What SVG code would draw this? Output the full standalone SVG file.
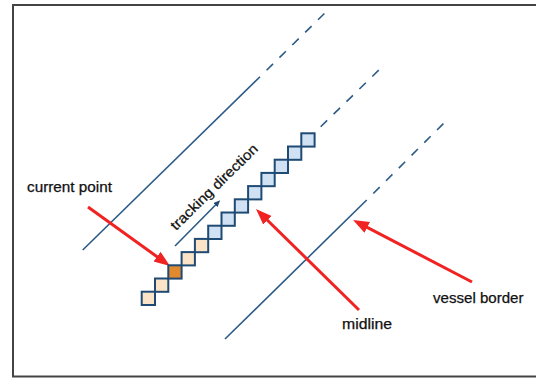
<svg xmlns="http://www.w3.org/2000/svg" width="536" height="378" viewBox="0 0 536 378">
<style>
.frame{fill:#ffffff;stroke:#444444;stroke-width:2}
.vline{stroke:#2b5a86;stroke-width:1.6;fill:none}
.dash{stroke-dasharray:9 9}
.sq{stroke:#1f4a73;stroke-width:2}
.beige{fill:#fbe3c8}
.orange{fill:#e0892f}
.blue{fill:#cfe1f3}
.red{stroke:#f02222;stroke-width:3;fill:none;marker-end:url(#redhead)}
.lbl{font-family:"Liberation Sans",Arial,sans-serif;font-size:14px;fill:#111111;stroke:#111111;stroke-width:0.25}
</style>
<defs>
<marker id="redhead" markerUnits="userSpaceOnUse" markerWidth="17" markerHeight="13" refX="6" refY="6" orient="auto">
<path d="M0,0 L16,6 L0,12 z" fill="#f02222"/>
</marker>
<marker id="navyhead" markerUnits="userSpaceOnUse" markerWidth="8" markerHeight="7" refX="1" refY="3" orient="auto">
<path d="M0,0 L7,3 L0,6 z" fill="#1f4a73"/>
</marker>
</defs>
<rect class="frame" x="13" y="5" width="540" height="371.5"/>
<g id="connectors">
<line class="vline" x1="82.7" y1="250" x2="260" y2="76.7"/>
<line class="vline dash" x1="266.6" y1="70.2" x2="328" y2="10"/>
<line class="vline dash" x1="320.7" y1="126.7" x2="382" y2="67"/>
<line class="vline" x1="225" y1="339" x2="366.7" y2="200"/>
<line class="vline dash" x1="373.3" y1="193.5" x2="448" y2="119"/>
<line x1="175" y1="246" x2="216" y2="204.5" stroke="#2b5a86" stroke-width="1.6" marker-end="url(#navyhead)"/>
<line class="red" x1="88" y1="207" x2="161.9" y2="260.2"/>
<line class="red" x1="359" y1="310" x2="263.1" y2="216"/>
<line class="red" x1="472" y1="282" x2="361.9" y2="224.6"/>
</g>
<g id="midline-pixels">
<rect class="sq beige" x="141.7" y="291.7" width="13.3" height="13.3"/>
<rect class="sq beige" x="155" y="278.5" width="13.3" height="13.3"/>
<rect class="sq orange" x="168.3" y="265.3" width="13.3" height="13.3"/>
<rect class="sq beige" x="181.6" y="252.1" width="13.3" height="13.3"/>
<rect class="sq beige" x="194.9" y="238.9" width="13.3" height="13.3"/>
<rect class="sq blue" x="208.2" y="225.7" width="13.3" height="13.3"/>
<rect class="sq blue" x="221.5" y="212.5" width="13.3" height="13.3"/>
<rect class="sq blue" x="234.8" y="199.3" width="13.3" height="13.3"/>
<rect class="sq blue" x="248.1" y="186.1" width="13.3" height="13.3"/>
<rect class="sq blue" x="261.4" y="172.9" width="13.3" height="13.3"/>
<rect class="sq blue" x="274.7" y="159.7" width="13.3" height="13.3"/>
<rect class="sq blue" x="288" y="146.5" width="13.3" height="13.3"/>
<rect class="sq blue" x="301.3" y="133.3" width="13.3" height="13.3"/>
</g>
<g id="label-tracking">
<text class="lbl" transform="translate(176,231) rotate(-44.4)" font-size="13" textLength="116" lengthAdjust="spacingAndGlyphs">tracking direction</text>
</g>
<g id="label-current">
<text class="lbl" x="27" y="191.5" textLength="85" lengthAdjust="spacingAndGlyphs">current point</text>
</g>
<g id="label-midline">
<text class="lbl" x="342" y="328.5" textLength="50" lengthAdjust="spacingAndGlyphs">midline</text>
</g>
<g id="label-vessel">
<text class="lbl" x="433" y="302.5" textLength="90.5" lengthAdjust="spacingAndGlyphs">vessel border</text>
</g>
</svg>
